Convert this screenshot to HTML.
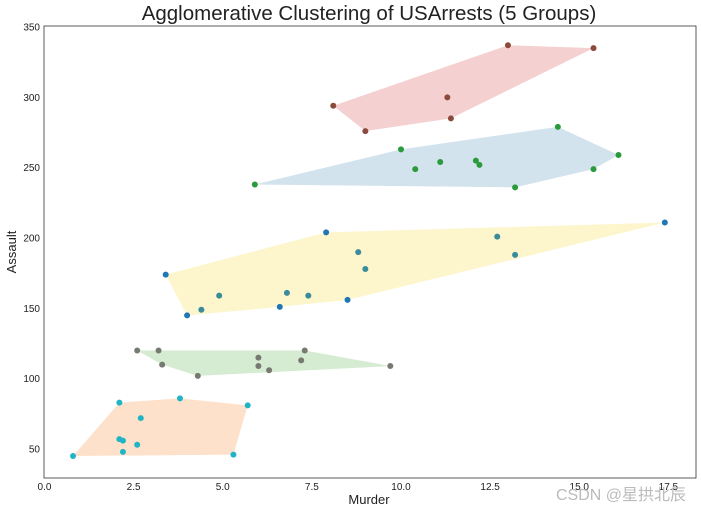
<!DOCTYPE html>
<html><head><meta charset="utf-8"><style>
body{margin:0;background:#fff;font-family:"Liberation Sans","Noto Sans CJK SC",sans-serif}
</style></head><body>
<svg id="chart" width="701" height="513" xmlns="http://www.w3.org/2000/svg" style="font-family:'Liberation Sans','Noto Sans CJK SC',sans-serif">
<rect width="701" height="513" fill="#fff"/>
<text x="369" y="20" text-anchor="middle" font-size="20.5" fill="#222">Agglomerative Clustering of USArrests (5 Groups)</text>
<g id="hulls"></g><g id="pts"></g><g id="axes"></g>
<rect x="44" y="26" width="652" height="452" fill="none" stroke="#333" stroke-width="0.8"/>
<text x="369" y="504" text-anchor="middle" font-size="13" fill="#222">Murder</text>
<text x="16" y="252" text-anchor="middle" font-size="13" fill="#222" transform="rotate(-90 16 252)">Assault</text>
<text x="686" y="500" text-anchor="end" font-size="16" fill="#bbb">CSDN @星拱北辰</text>
</svg>
<script>
const murder=[13.2,10.0,8.1,8.8,9.0,7.9,3.3,5.9,15.4,17.4,5.3,2.6,10.4,7.2,2.2,6.0,9.7,15.4,2.1,11.3,4.4,12.1,2.7,16.1,9.0,6.0,4.3,12.2,2.1,7.4,11.4,11.1,13.0,0.8,7.3,6.6,4.9,6.3,3.4,14.4,3.8,13.2,12.7,3.2,2.2,8.5,4.0,5.7,2.6,6.8];
const assault=[236,263,294,190,276,204,110,238,335,211,46,120,249,113,56,115,109,249,83,300,149,255,72,259,178,109,102,252,57,159,285,254,337,45,120,151,159,106,174,279,86,188,201,120,48,156,145,81,53,161];
const cluster=[1,1,0,2,0,2,3,1,0,2,4,3,1,3,4,3,3,1,4,0,2,1,4,1,2,3,3,1,4,2,0,1,0,4,3,2,2,3,2,1,4,2,2,3,4,2,2,4,4,2];
const xTicks=[0,2.5,5,7.5,10,12.5,15,17.5];
const yTicks=[50,100,150,200,250,300,350];
const hullColors=["#f5d0d0","#d3e3ee","#fdf5cc","#d5ebd2","#fee1cb"];
const ptColors=["#8c4a3e","#2a9a3c","#3a8b9b","#777a70","#1fb5c4"];
const blueIdx=[5,9,38,46,45,35];
const sx=v=>44.5+v*35.65, sy=v=>27+(350-v)*1.4067;
const NS="http://www.w3.org/2000/svg";
const H=document.getElementById('hulls'),P=document.getElementById('pts'),A=document.getElementById('axes');
function hull(p){p=p.slice().sort((a,b)=>a[0]-b[0]||a[1]-b[1]);const c=(o,a,b)=>(a[0]-o[0])*(b[1]-o[1])-(a[1]-o[1])*(b[0]-o[0]);const l=[],u=[];for(const q of p){while(l.length>=2&&c(l[l.length-2],l[l.length-1],q)<=0)l.pop();l.push(q);}for(const q of p.slice().reverse()){while(u.length>=2&&c(u[u.length-2],u[u.length-1],q)<=0)u.pop();u.push(q);}return l.slice(0,-1).concat(u.slice(0,-1));}
for(let k=0;k<5;k++){
 const pts=[];murder.forEach((m,i)=>{if(cluster[i]===k)pts.push([sx(m),sy(assault[i])]);});
 const h=hull(pts);const pg=document.createElementNS(NS,'polygon');
 pg.setAttribute('points',h.map(p=>p.join(',')).join(' '));pg.setAttribute('fill',hullColors[k]);
 
 
 H.appendChild(pg);
}
murder.forEach((m,i)=>{const c=document.createElementNS(NS,'circle');
 c.setAttribute('cx',sx(m));c.setAttribute('cy',sy(assault[i]));c.setAttribute('r',3);
 c.setAttribute('fill',blueIdx.includes(i)?'#1f77b4':ptColors[cluster[i]]);
 
 
 P.appendChild(c);});
xTicks.forEach(t=>{const tx=document.createElementNS(NS,'text');tx.setAttribute('x',sx(t));tx.setAttribute('y',490);tx.setAttribute('text-anchor','middle');tx.setAttribute('font-size','10');tx.setAttribute('fill','#222');tx.textContent=t.toFixed(1);
 
 
 A.appendChild(tx);});
yTicks.forEach(t=>{const tx=document.createElementNS(NS,'text');tx.setAttribute('x',40);tx.setAttribute('y',sy(t)+3.5);tx.setAttribute('text-anchor','end');tx.setAttribute('font-size','10');tx.setAttribute('fill','#222');tx.textContent=t;
 
 
 A.appendChild(tx);});
</script>
</body></html>
